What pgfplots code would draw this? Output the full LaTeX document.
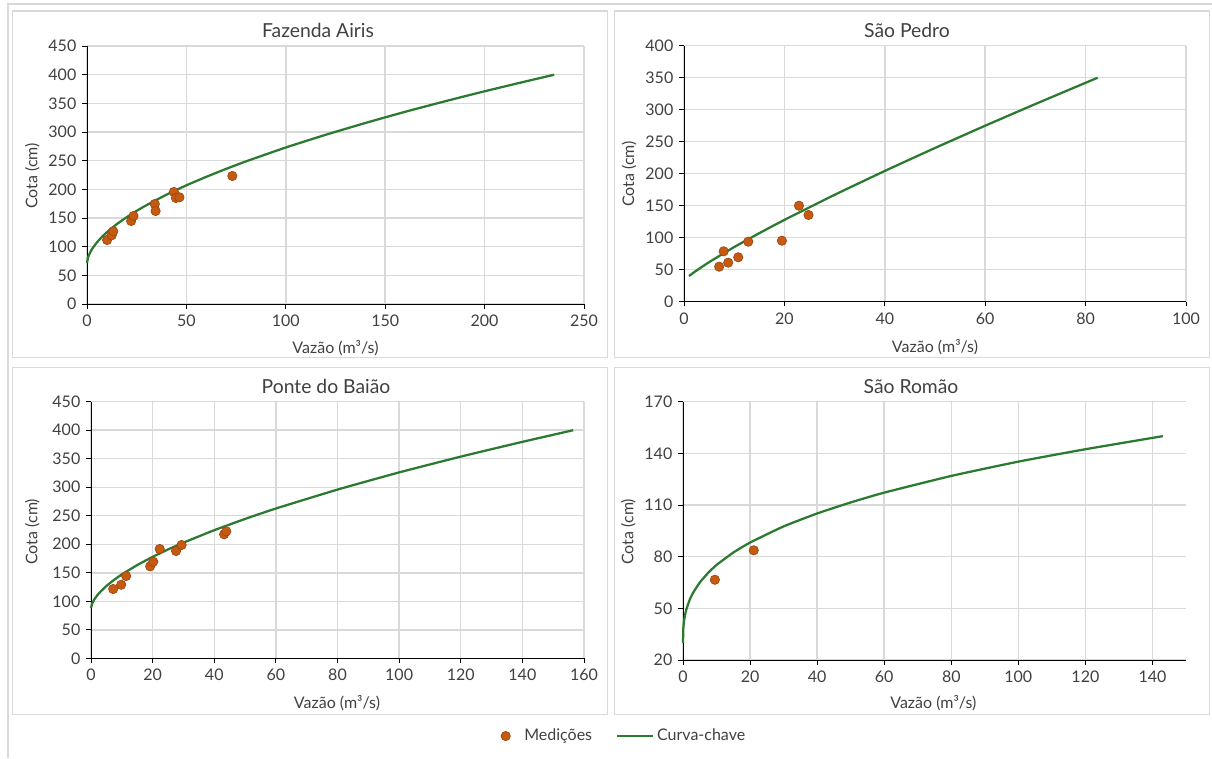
\documentclass[border=0pt]{standalone}
\usepackage{fontspec}
\setmainfont{Lato}
\usepackage{pgfplots}
\pgfplotsset{compat=1.18}

\definecolor{ptfill}{HTML}{C55A11}
\definecolor{ptedge}{HTML}{9E4510}
\definecolor{curva}{HTML}{2B7A30}
\definecolor{gridc}{HTML}{D9D9D9}
\definecolor{framec}{HTML}{D9D9D9}
\definecolor{txt}{HTML}{404040}

% one picture unit = one pixel of the layout grid
\newcommand{\px}{0.75pt}
\newcommand{\fonteeixo}{\fontsize{12}{14}\selectfont}
\newcommand{\fontetitulo}{\fontsize{14.5}{17}\selectfont}

\pgfplotsset{
  painel/.style={
    scale only axis,
    anchor=south west,
    axis lines=left,
    axis line style={-, black, line width=0.75pt},
    tick align=outside,
    major tick length=3.5pt,
    tick style={black, line width=0.75pt},
    grid=major,
    grid style={gridc, line width=1.1pt},
    ticklabel style={font=\fonteeixo, text=txt},
    /pgf/number format/assume math mode=true,
    /pgf/number format/.cd, 1000 sep={}, /pgfplots/.cd,
    xticklabel style={yshift=-1pt},
    yticklabel style={xshift=-1pt},
    clip=false,
  },
  medicoes/.style={only marks, mark=*, mark size=3.5pt,
    mark options={fill=ptfill, draw=ptedge, line width=0.5pt},
    legend image code/.code={
      \path[draw=none, fill=none] (-5pt,-1pt) rectangle (12pt,1pt);
      \draw[##1] plot coordinates {(0pt,0pt)};}},
  curvachave/.style={curva, line width=1.7pt, no marks, smooth, tension=0.3,
    legend image code/.code={\draw[##1] (0pt,0pt) -- (27pt,0pt);}},
}

\begin{document}
\begin{tikzpicture}[x=\px, y=\px]
\useasboundingbox (0,0) rectangle (1212,758);

% outer frame remnants and panel frames (y measured upward from the bottom)
\draw[framec, line width=1.4pt] (8,0) -- (8,754) -- (1212,754);
\draw[framec, line width=1.4pt] (12.5,400.5) rectangle (607.5,747);
\draw[framec, line width=1.4pt] (614.5,400.5) rectangle (1209.5,747);
\draw[framec, line width=1.4pt] (12.5,43.5) rectangle (607.5,390.5);
\draw[framec, line width=1.4pt] (614.5,43.5) rectangle (1209.5,390.5);

% lower-left corners of the four plot areas
\coordinate (pA) at (87,454);
\coordinate (pB) at (684,456.3);
\coordinate (pC) at (91,99.7);
\coordinate (pD) at (683,98);

% ---------------- Fazenda Airis ----------------
\begin{axis}[painel, at={(pA)}, width=497*\px, height=258*\px,
  xmin=0, xmax=250, ymin=0, ymax=450,
  xtick={0,50,...,250}, ytick={0,50,...,450}]
\addplot[medicoes] coordinates {
  (10.1,111.6) (12.4,119.8) (13.2,126.8) (22.2,144.8) (23.4,153.5)
  (34.1,174.4) (34.5,162.2) (43.7,195.4) (44.7,184.9) (46.5,186.1)
  (73.1,223.3)};
\addplot[curvachave] coordinates {
  (0,71) (0.5,80.8) (1,85.6) (2,92.6) (3,98.3) (5,107.5) (7.5,117.0)
  (10,125.2) (15,139.3) (20,151.5) (25,162.5) (30,172.5) (40,190.7)
  (50,207.0) (60,221.8) (70,235.7) (80,248.8) (100,273.0) (120,295.1)
  (140,315.7) (160,335.2) (180,353.5) (200,371.0) (220,387.7) (235,399.9)};
\end{axis}

% ---------------- São Pedro ----------------
\begin{axis}[painel, at={(pB)}, width=502*\px, height=256*\px,
  xmin=0, xmax=100, ymin=0, ymax=400,
  xtick={0,20,...,100}, ytick={0,50,...,400}]
\addplot[medicoes] coordinates {
  (7.0,54.7) (7.9,78.7) (8.8,61.0) (10.8,69.4) (12.8,93.8)
  (19.5,95.3) (22.9,150.0) (24.8,135.5)};
\addplot[curvachave] coordinates {
  (1,40.0) (2,46.0) (5,61.8) (10,85.4) (15,107.1) (20,127.8) (30,167.0)
  (40,204.3) (50,240.2) (60,275.0) (70,308.9) (82.4,350.0)};
\end{axis}

% ---------------- Ponte do Baião ----------------
\begin{axis}[painel, at={(pC)}, width=493*\px, height=256.6*\px,
  xmin=0, xmax=160, ymin=0, ymax=450,
  xtick={0,20,...,160}, ytick={0,50,...,450},
  legend columns=2,
  legend style={at={(1.080,-0.303)}, anchor=center, draw=none, fill=none,
    font=\fonteeixo, text=txt,
    /tikz/every even column/.append style={column sep=16pt}},
  legend cell align=left]
\addplot[medicoes] coordinates {
  (7.2,121.5) (9.8,129.0) (11.4,144.3) (19.2,161.3) (20.2,169.4)
  (22.3,191.7) (27.6,188.2) (29.4,198.7) (43.2,217.5) (43.9,222.7)};
\addlegendentry{Medições}
\addplot[curvachave] coordinates {
  (0,88.0) (0.5,97.6) (1,102.7) (2,110.3) (3,116.5) (5,126.8) (7.5,137.6)
  (10,147.1) (15,163.5) (20,177.9) (25,190.9) (30,202.8) (40,224.7)
  (50,244.4) (60,262.7) (80,295.9) (100,326.0) (120,353.7) (140,379.6)
  (156.5,400.0)};
\addlegendentry{Curva-chave}
\end{axis}

% ---------------- São Romão ----------------
\begin{axis}[painel, at={(pD)}, width=503*\px, height=258.3*\px,
  xmin=0, xmax=150, ymin=20, ymax=170,
  xtick={0,20,...,140}, ytick={20,50,...,170}]
\addplot[medicoes] coordinates {(9.5,66.6) (21.1,83.7)};
\addplot[curvachave] coordinates {
  (0,30.0) (0.1,38.3) (0.3,42.5) (0.6,46.1) (1,49.4) (2,55.0) (3,59.0)
  (5,65.0) (7.5,70.6) (10,75.2) (15,82.4) (20,88.2) (30,97.6) (40,105.1)
  (50,111.5) (60,117.2) (80,126.9) (100,135.2) (120,142.4) (143.1,150.0)};
\end{axis}

% titles and axis names
\begin{scope}[every node/.style={text=txt}]
\node[font=\fontetitulo] at (318,728) {Fazenda Airis};
\node[font=\fontetitulo] at (907,728) {São Pedro};
\node[font=\fontetitulo] at (326,371.3) {Ponte do Baião};
\node[font=\fontetitulo] at (911,371.3) {São Romão};
\node[font=\fonteeixo] at (335.5,410) {Vazão (m³/s)};
\node[font=\fonteeixo] at (935,411.3) {Vazão (m³/s)};
\node[font=\fonteeixo] at (337,54.7) {Vazão (m³/s)};
\node[font=\fonteeixo] at (933.4,54.7) {Vazão (m³/s)};
\node[font=\fonteeixo, rotate=90] at (32.3,582) {Cota (cm)};
\node[font=\fonteeixo, rotate=90] at (629,584) {Cota (cm)};
\node[font=\fonteeixo, rotate=90] at (32.3,226.3) {Cota (cm)};
\node[font=\fonteeixo, rotate=90] at (628.4,226.3) {Cota (cm)};
\end{scope}
\end{tikzpicture}
\end{document}
